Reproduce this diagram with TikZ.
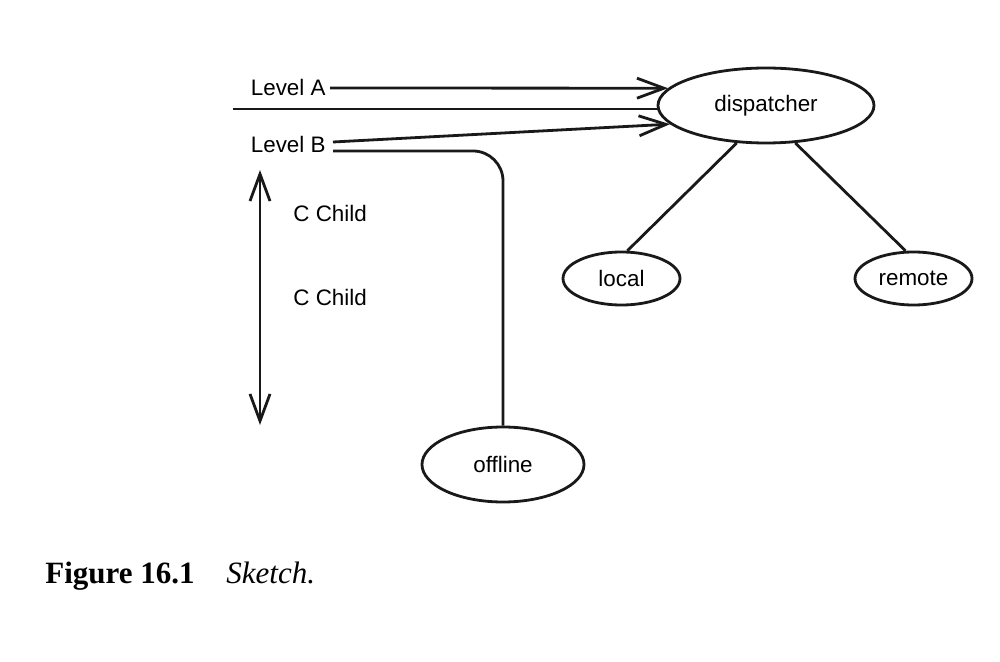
\documentclass[tikz,border=0pt]{standalone}
\usepackage{fontspec}
\setmainfont{Liberation Sans}
\newfontfamily\capfont{Liberation Serif}
\usetikzlibrary{shapes.geometric,arrows.meta,calc}
\tikzset{
  ln/.style={line width=1.4pt, draw=black!90},
  arr/.style={ln, -{Straight Barb[length=13.5pt,width=10pt,line width=1.4pt]}},
  darr/.style={ln, {Straight Barb[length=13.5pt,width=10pt,line width=1.4pt]}-{Straight Barb[length=13.5pt,width=10pt,line width=1.4pt]}},
  ell/.style={ellipse, ln, inner sep=0pt, font=\fontsize{11.2}{13}\selectfont},
  lbl/.style={inner sep=0pt, font=\fontsize{11.2}{13}\selectfont}
}
\begin{document}
\begin{tikzpicture}[x=0.5pt,y=-0.5pt]
\useasboundingbox (0,0) rectangle (1000,662);
% nodes
\node[ell, minimum width=108pt, minimum height=37.5pt] (disp) at (766,105.5) {dispatcher};
\node[ell, minimum width=58.5pt, minimum height=26.5pt] (loc) at (621.5,278.5) {local};
\node[ell, minimum width=58.5pt, minimum height=26.5pt] (rem) at (913.5,278.5) {remote};
\node[ell, minimum width=81pt, minimum height=37.5pt] (off) at (503,464.5) {offline};
\node[lbl, anchor=east] (la) at (326,87) {Level A};
\node[lbl, anchor=east] (lb) at (326,144.5) {Level B};
\node[lbl, anchor=west] (c1) at (293,213) {C Child};
\node[lbl, anchor=west] (c2) at (293,297) {C Child};
% coordinates
\coordinate (mstart) at (233,109);
\coordinate (lbA) at (333,142);
\coordinate (lbB) at (333,151);
\coordinate (vtop) at (260,170);
\coordinate (vbot) at (260,425);
% connectors
\draw[arr] (la.east) ++(4,1) -- (disp.170);
\draw[ln] (mstart) -- (mstart -| disp.west);
\draw[arr] (lbA) -- (disp.191);
\draw[ln, rounded corners=15pt] (lbB) -| (off.north);
\draw[darr] (vtop) -- (vbot);
\draw[ln] (disp.232.5) -- (loc.78);
\draw[ln] (disp.308.5) -- (rem.106);
% caption
\node[anchor=base west, inner sep=0pt, font=\capfont\fontsize{15.5}{18}\selectfont\bfseries] (fig) at (45,583) {Figure 16.1};
\node[anchor=base west, inner sep=0pt, font=\capfont\fontsize{15.5}{18}\selectfont\itshape] (cap) at (226,583) {Sketch.};
\end{tikzpicture}
\end{document}
